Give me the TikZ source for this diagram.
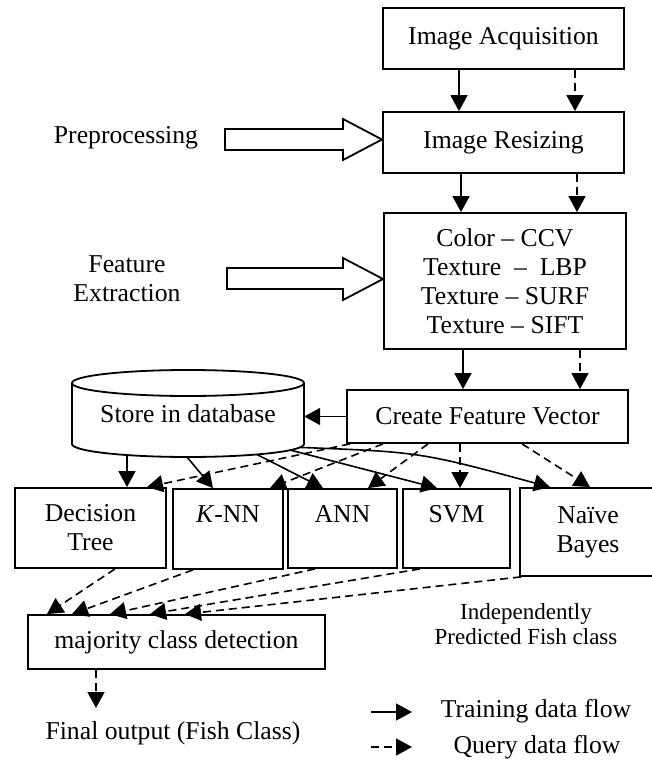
\documentclass[tikz,border=0pt]{standalone}
\usepackage{fontspec}
\setmainfont{Liberation Serif}
\usetikzlibrary{arrows.meta}
\begin{document}
\begin{tikzpicture}[x=1pt,y=-1pt,
  every node/.style={font=\fontsize{25.7}{29}\selectfont, inner sep=0pt},
  box/.style={draw, line width=1.8pt, align=center},
  ahead/.style={-{Triangle[length=16pt,width=17pt]}},
  train/.style={line width=1.6pt, ahead},
  query/.style={line width=1.6pt, ahead, dash pattern=on 8pt off 5pt},
  hollow/.style={draw, line width=1.8pt, line join=miter},
  small/.style={font=\fontsize{23}{25}\selectfont, align=center}]
\useasboundingbox (0,0) rectangle (651,762);

% process boxes
\node[box, minimum width=241pt, minimum height=61pt] (acq) at (503.5,38.5) {Image Acquisition};
\node[box, minimum width=241pt, minimum height=61pt] (resize) at (503.5,142.5) {Image Resizing};
\node[box, minimum width=242pt, minimum height=136pt] (feat) at (505,281)
  {Color – CCV\\Texture\ \ –\ \ LBP\\Texture – SURF\\Texture – SIFT};
\node[box, minimum width=281pt, minimum height=53pt] (cfv) at (487.5,416.5) {Create Feature Vector};

% database cylinder
\draw[line width=1.8pt] (188,383) ellipse [x radius=116pt, y radius=13pt];
\draw[line width=1.8pt] (72,383) -- (72,444) arc[start angle=180, end angle=360, x radius=116pt, y radius=13pt] -- (304,383);
\node[minimum width=232pt, minimum height=87pt] (db) at (188,413.5) {Store in database};

% side labels and hollow arrows
\node (pre) at (126,138) {Preprocessing};
\node[align=center] (fe) at (127,279) {Feature\\Extraction};
\draw[hollow] (225,129) -- (343,129) -- (343,119) -- (382,139.5) -- (343,160) -- (343,150) -- (225,150) -- cycle;
\draw[hollow] (227,268) -- (343,268) -- (343,258) -- (383,279) -- (343,300) -- (343,289) -- (227,289) -- cycle;

% classifiers
\node[box, minimum width=151pt, minimum height=80pt] (dt) at (90.5,528) {Decision\\Tree};
\node[box, minimum width=110pt, minimum height=80pt] (knn) at (228,529) {\textit{K}-NN\\\mbox{}};
\node[box, minimum width=109pt, minimum height=79pt] (ann) at (342.5,528.5) {ANN\\\mbox{}};
\node[box, minimum width=107pt, minimum height=79pt] (svm) at (456.5,528.5) {SVM\\\mbox{}};
\node[box, minimum width=136pt, minimum height=88pt] (nb) at (588,532) {Naïve\\Bayes};

\node[box, minimum width=297pt, minimum height=54pt] (maj) at (176.5,642) {majority class detection};
\node (final) at (173,733) {Final output (Fish Class)};
\node[small] (indep) at (526,624) {Independently\\Predicted Fish class};

% helper coordinates
\coordinate (s1) at (459,0);  \coordinate (d1) at (575,0);
\coordinate (s2) at (461,0);  \coordinate (d2) at (577,0);
\coordinate (s3) at (463,0);  \coordinate (d3) at (580,0);

\draw[train] (acq.south -| s1) -- (resize.north -| s1);
\draw[query] (acq.south -| d1) -- (resize.north -| d1);
\draw[train] (resize.south -| s2) -- (feat.north -| s2);
\draw[query] (resize.south -| d2) -- (feat.north -| d2);
\draw[train] (feat.south -| s3) -- (cfv.north -| s3);
\draw[query] (feat.south -| d3) -- (cfv.north -| d3);
\draw[train] (cfv.west) -- (cfv.west -| db.east);

% cylinder bottom start points
\coordinate (b1) at (127,455);
\coordinate (b2) at (187,457);
\coordinate (b3) at (257,454.5);
\coordinate (b4) at (290,450);
\coordinate (b5) at (300,447.4);
% targets on classifier tops
\coordinate (t1) at (127,0);
\coordinate (t2) at (213,0);
\coordinate (t3) at (323,0);
\coordinate (t4) at (437,0);
\coordinate (t5) at (550,0);

\draw[train] (b1) -- (dt.north -| t1);
\draw[train] (b2) -- (knn.north -| t2);
\draw[train] (b3) -- (ann.north -| t3);
\draw[train] (b4) -- (svm.north -| t4);
\draw[train] (b5) .. controls (420,452) .. (nb.north -| t5);

% query from CFV
\coordinate (q1) at (350,0);
\coordinate (q2) at (383,0);
\coordinate (q3) at (428,0);
\coordinate (q4) at (460,0);
\coordinate (q5) at (522,0);
\coordinate (u1) at (147,0);
\coordinate (u2) at (270,0);
\coordinate (u3) at (368,0);
\coordinate (u5) at (590,0);
\draw[query] (cfv.south -| q1) -- (dt.north -| u1);
\draw[query] (cfv.south -| q2) -- (knn.north -| u2);
\draw[query] (cfv.south -| q3) -- (ann.north -| u3);
\draw[query] (cfv.south -| q4) -- (svm.north -| q4);
\draw[query] (cfv.south -| q5) -- (nb.north -| u5);

% classifiers to majority
\coordinate (m1) at (115,0);  \coordinate (n1) at (47,0);
\coordinate (m2) at (193,0);  \coordinate (n2) at (72,0);
\coordinate (m3) at (315,0);  \coordinate (n3) at (110,0);
\coordinate (m4) at (420,0);  \coordinate (n4) at (150,0);
\coordinate (m5) at (521,0);  \coordinate (n5) at (185,0);
\draw[query] (dt.south -| m1) -- (maj.north -| n1);
\draw[query] (knn.south -| m2) -- (maj.north -| n2);
\draw[query] (ann.south -| m3) -- (maj.north -| n3);
\draw[query] (svm.south -| m4) -- (maj.north -| n4);
\draw[query] (nb.south -| m5) -- (maj.north -| n5);

% output
\coordinate (o1) at (96,708);
\draw[query] (maj.south -| o1) -- (o1);

% legend
\coordinate (l1) at (371,712); \coordinate (l2) at (412,712);
\coordinate (l3) at (371,747); \coordinate (l4) at (412,747);
\draw[train] (l1) -- (l2);
\draw[query] (l3) -- (l4);
\node (ltrain) at (536,711) {Training data flow};
\node (lquery) at (537,747) {Query data flow};
\end{tikzpicture}
\end{document}
